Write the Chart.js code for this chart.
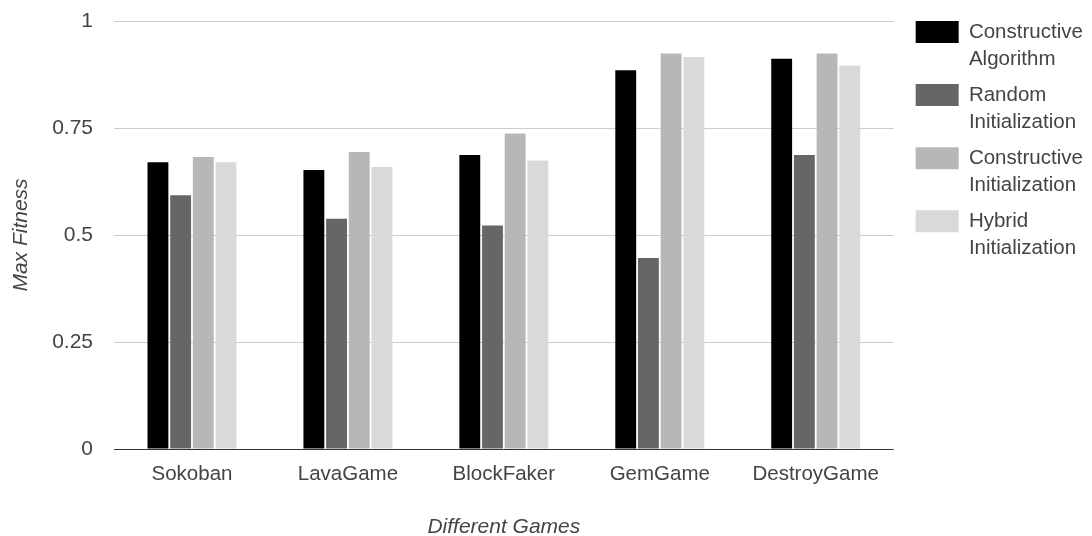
<!DOCTYPE html>
<html>
<head>
<meta charset="utf-8">
<script src="https://cdn.jsdelivr.net/npm/chart.js@4/dist/chart.umd.min.js"></script>
<style>
  html, body { margin: 0; padding: 0; background: #ffffff; }
  #wrap { position: relative; width: 1092px; height: 536px; }
</style>
</head>
<body>
<div id="wrap"><canvas id="c"></canvas></div>
<script>
const categories = ['Sokoban', 'LavaGame', 'BlockFaker', 'GemGame', 'DestroyGame'];
const seriesNames = ['Constructive Algorithm', 'Random Initialization', 'Constructive Initialization', 'Hybrid Initialization'];
const legendLines = [['Constructive', 'Algorithm'], ['Random', 'Initialization'], ['Constructive', 'Initialization'], ['Hybrid', 'Initialization']];
const constructiveAlgorithm = [0.670, 0.652, 0.687, 0.885, 0.912];
const randomInitialization = [0.593, 0.538, 0.522, 0.446, 0.687];
const constructiveInitialization = [0.682, 0.694, 0.737, 0.924, 0.924];
const hybridInitialization = [0.670, 0.659, 0.674, 0.916, 0.896];
const yTickValues = [0, 0.25, 0.5, 0.75, 1];
const yTickLabels = ['0', '0.25', '0.5', '0.75', '1'];
const seriesColors = ['#000000', '#666666', '#b7b7b7', '#d9d9d9'];

const FONT = '"Liberation Sans", Arial, sans-serif';
const TEXT = '#444444';

const seriesData = [constructiveAlgorithm, randomInitialization, constructiveInitialization, hybridInitialization];

new Chart(document.getElementById('c'), {
  type: 'bar',
  data: {
    labels: categories,
    datasets: seriesData.map((d, i) => ({
      label: seriesNames[i],
      data: d,
      backgroundColor: seriesColors[i],
      borderWidth: 0,
      categoryPercentage: 0.582,
      barPercentage: 0.92
    }))
  },
  options: {
    responsive: true,
    maintainAspectRatio: false,
    animation: false,
    layout: { padding: { left: 0, right: 4, top: 12, bottom: 0 } },
    plugins: {
      tooltip: { enabled: false },
      legend: {
        position: 'right',
        align: 'start',
        labels: {
          boxWidth: 43,
          boxHeight: 22,
          padding: 9,
          color: TEXT,
          font: { family: FONT, size: 20.5, lineHeight: 1.32 },
          generateLabels: (chart) => chart.data.datasets.map((ds, i) => ({
            text: legendLines[i],
            fillStyle: ds.backgroundColor,
            strokeStyle: ds.backgroundColor,
            lineWidth: 0,
            hidden: false,
            datasetIndex: i,
            fontColor: TEXT
          }))
        }
      }
    },
    scales: {
      x: {
        grid: { display: false, drawTicks: false },
        border: { display: false },
        ticks: { color: TEXT, padding: 13, font: { family: FONT, size: 20.5 } },
        title: {
          display: true,
          text: 'Different Games',
          color: TEXT,
          font: { family: FONT, size: 21, style: 'italic', lineHeight: 0.86 },
          padding: { top: 0, bottom: 0 }
        },
        afterFit: (s) => { s.height = 87; }
      },
      y: {
        min: 0,
        max: 1,
        afterBuildTicks: (s) => { s.ticks = yTickValues.map(v => ({ value: v })); },
        grid: {
          drawTicks: false,
          color: (ctx) => (ctx.tick && ctx.tick.value === 0) ? '#333333' : '#cccccc',
          lineWidth: 1
        },
        border: { display: false },
        ticks: {
          color: TEXT,
          padding: 21,
          font: { family: FONT, size: 21 },
          callback: (v) => { const i = yTickValues.indexOf(v); return i >= 0 ? yTickLabels[i] : ''; }
        },
        title: {
          display: true,
          text: 'Max Fitness',
          color: TEXT,
          font: { family: FONT, size: 21, style: 'italic', lineHeight: 1 },
          padding: { top: 11, bottom: 0 }
        },
        afterFit: (s) => { s.width = 114; s.paddingTop = 21; }
      },
      y2: {
        type: 'linear',
        position: 'right',
        display: true,
        grid: { display: false, drawTicks: false },
        border: { display: false },
        ticks: { display: false },
        afterFit: (s) => { s.width = 13; }
      }
    }
  }
});
</script>
</body>
</html>
